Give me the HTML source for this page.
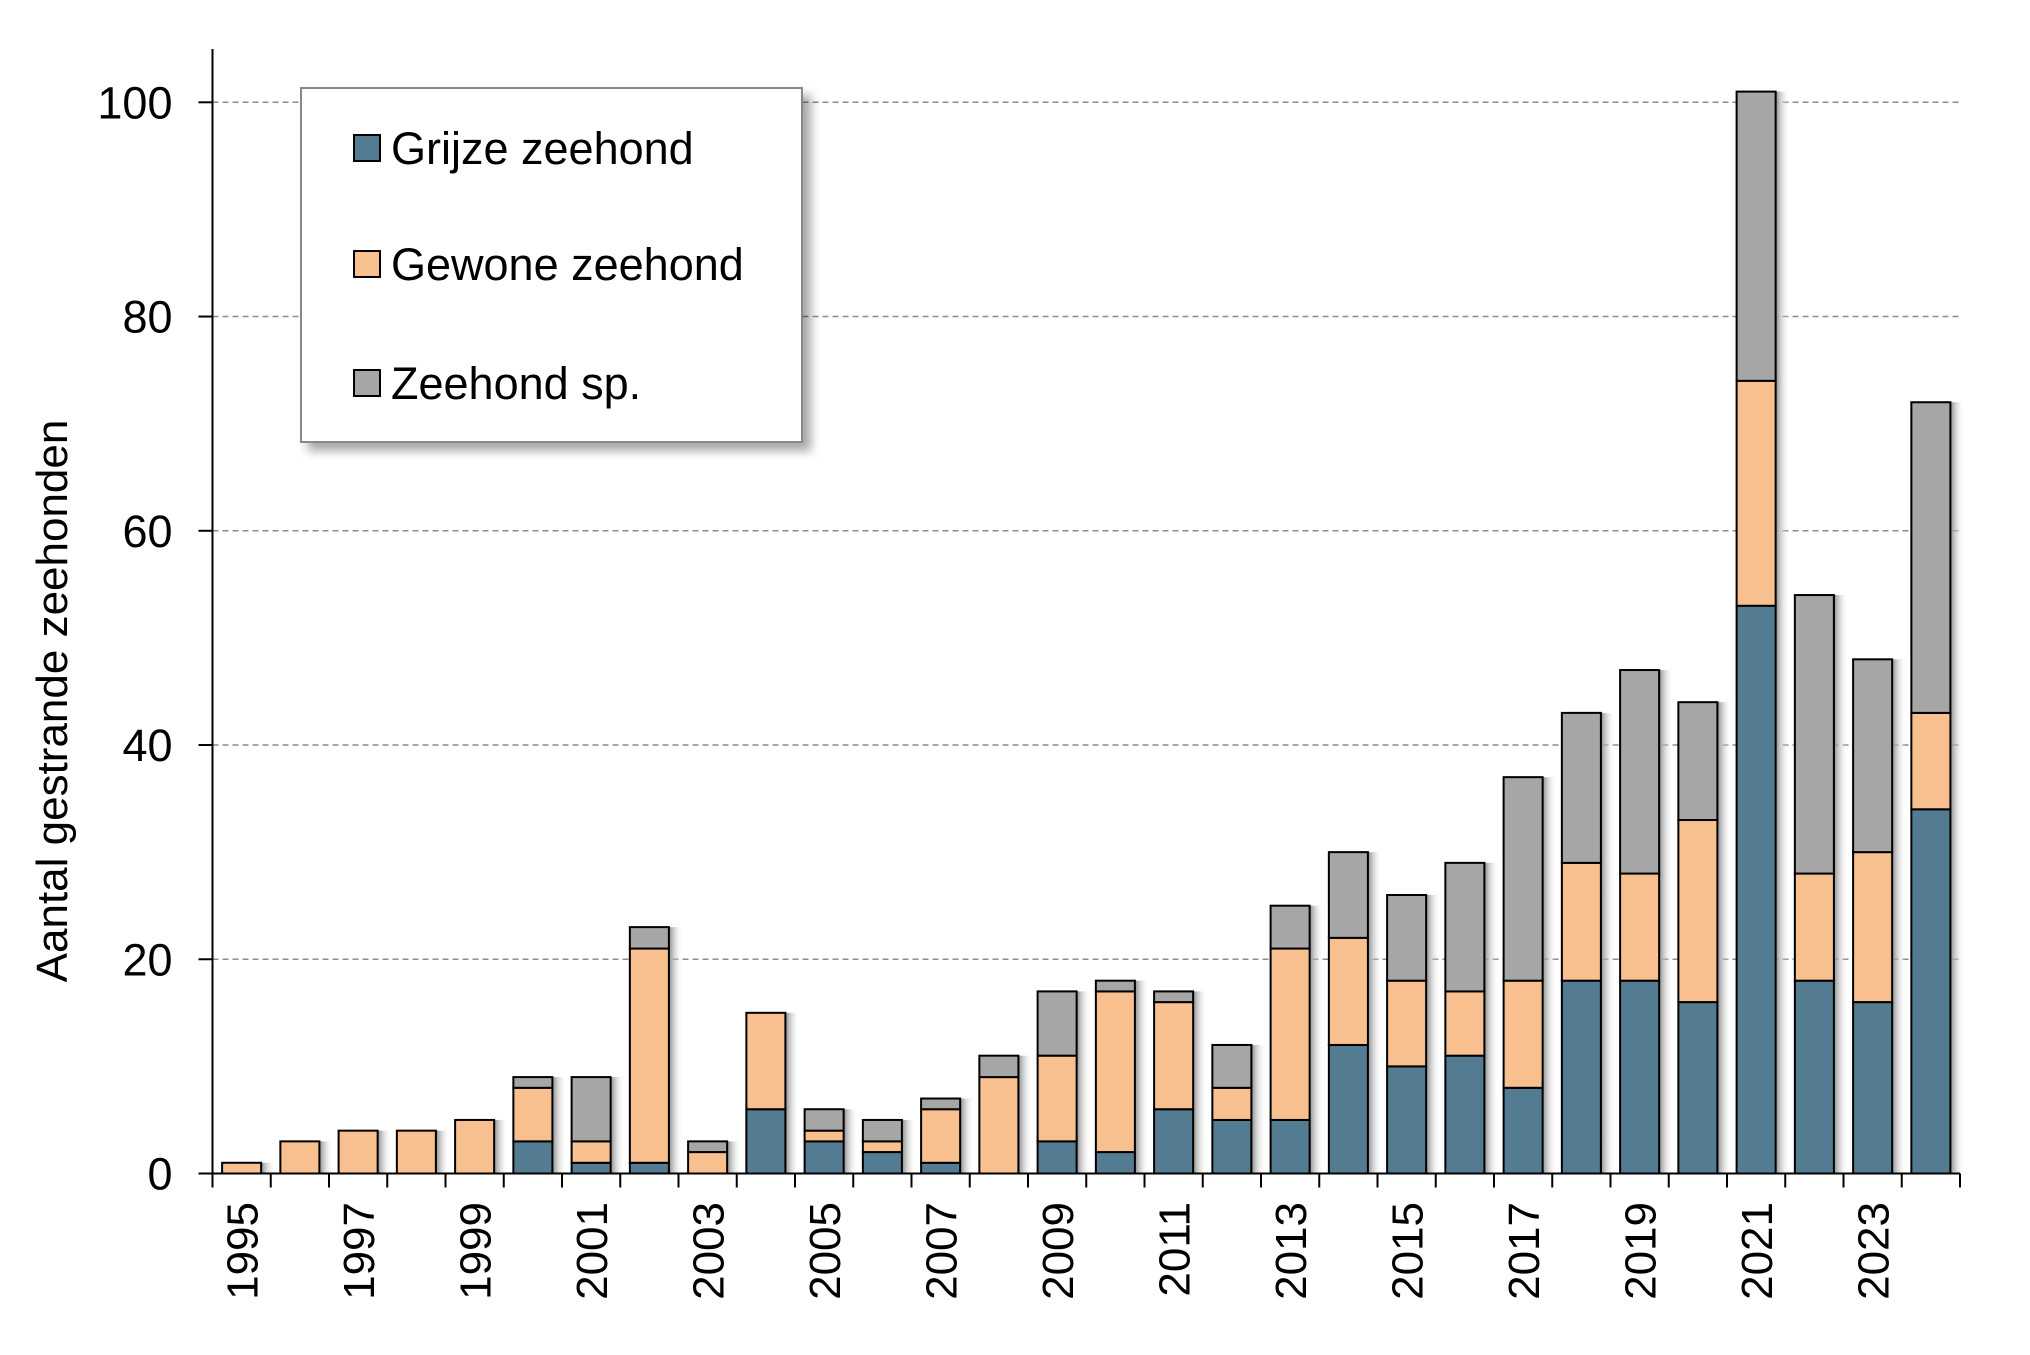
<!DOCTYPE html>
<html><head><meta charset="utf-8"><style>
html,body{margin:0;padding:0;background:#fff;}
svg{display:block;font-family:"Liberation Sans",Arial,sans-serif;}
</style></head><body>
<svg id="chart" width="2030" height="1355" viewBox="0 0 2030 1355">
<defs>
<linearGradient id="shade" x1="0" x2="1" y1="0" y2="0">
<stop offset="0" stop-color="#8a8a8a"/><stop offset="1" stop-color="#ffffff" stop-opacity="0"/>
</linearGradient>
<filter id="lshadow" x="-10%" y="-10%" width="130%" height="130%"><feDropShadow dx="8" dy="8" stdDeviation="5" flood-color="#000" flood-opacity="0.35"/></filter>
</defs>
<g id="grid"></g>
<g id="bars"></g>
<g id="axes"></g>
<text x="0" y="0" transform="translate(67,701) rotate(-90)" text-anchor="middle" font-size="44" fill="#000">Aantal gestrande zeehonden</text>
<g>
<rect x="301" y="88" width="501" height="354" fill="#fff" stroke="#888" stroke-width="2" filter="url(#lshadow)"/>
<rect x="354" y="135" width="26" height="26" fill="#537b91" stroke="#000" stroke-width="2"/>
<text x="391" y="164" font-size="45">Grijze zeehond</text>
<rect x="354" y="251" width="26" height="26" fill="#f9c08f" stroke="#000" stroke-width="2"/>
<text x="391" y="280" font-size="45">Gewone zeehond</text>
<rect x="354" y="370" width="26" height="26" fill="#a6a6a6" stroke="#000" stroke-width="2"/>
<text x="391" y="399" font-size="45">Zeehond sp.</text>
</g>
</svg>
<script>
const years = [1995,1996,1997,1998,1999,2000,2001,2002,2003,2004,2005,2006,2007,2008,2009,2010,2011,2012,2013,2014,2015,2016,2017,2018,2019,2020,2021,2022,2023,2024];
const grijze = [0,0,0,0,0,3,1,1,0,6,3,2,1,0,3,2,6,5,5,12,10,11,8,18,18,16,53,18,16,34];
const gewone = [1,3,4,4,5,5,2,20,2,9,1,1,5,9,8,15,10,3,16,10,8,6,10,11,10,17,21,10,14,9];
const sp = [0,0,0,0,0,1,6,2,1,0,2,2,1,2,6,1,1,4,4,8,8,12,19,14,19,11,27,26,18,29];
const yTicks = [0,20,40,60,80,100];
const NS='http://www.w3.org/2000/svg';
const X0=212.5, X1=1960, Y0=1173.5, YTOP=49, PX_PER_UNIT=(1173.5-102.3)/100;
const step=(X1-X0)/years.length, bw=step*0.67;
function xScale(i){return X0+step*i+step/2;}
function yScale(v){return Y0-v*PX_PER_UNIT;}
function mk(tag,attrs,parent){const e=document.createElementNS(NS,tag);for(const k in attrs)e.setAttribute(k,attrs[k]);parent.appendChild(e);return e;}
const grid=document.getElementById('grid'),bars=document.getElementById('bars'),axes=document.getElementById('axes');
yTicks.forEach(t=>{
  const y=yScale(t);
  if(t>0){const g=mk('line',{x1:X0,x2:X1,y1:y,y2:y,stroke:'#8c8c8c','stroke-width':1.5,'stroke-dasharray':'6,4'},grid);
  
  }
  const tk=mk('line',{x1:X0-14,x2:X0,y1:y,y2:y,stroke:'#000','stroke-width':2},axes);
  
  
  const lb=mk('text',{x:X0-40,y:y+16,'text-anchor':'end','font-size':45},axes);
  lb.textContent=t;
  
  
});
const series=[[grijze,'#537b91','grijze'],[gewone,'#f9c08f','gewone'],[sp,'#a6a6a6','sp']];
years.forEach((yr,i)=>{
  const cx=xScale(i), left=cx-bw/2;
  const total=grijze[i]+gewone[i]+sp[i];
  const sh=mk('rect',{x:left+bw,y:yScale(total),width:14,height:Y0-yScale(total),fill:'url(#shade)'},bars);
  
  
  let base=0;
  series.forEach(([arr,col,nm])=>{
    const v=arr[i]; if(v<=0) return;
    const r=mk('rect',{x:left,y:yScale(base+v),width:bw,height:v*PX_PER_UNIT,fill:col,stroke:'#000','stroke-width':2},bars);
    
    
    base+=v;
  });
});
for(let i=0;i<=years.length;i++){
  const x=X0+step*i;
  const t=mk('line',{x1:x,x2:x,y1:Y0,y2:Y0+14,stroke:'#000','stroke-width':2},axes);
  
  
}
years.forEach((yr,i)=>{
  if(i%2!==0) return;
  const cx=xScale(i);
  const lb=mk('text',{x:0,y:0,transform:'translate('+(cx+16)+',1202) rotate(-90)','text-anchor':'end','font-size':44},axes);
  lb.textContent=yr;
  
  
});
const ya=mk('line',{x1:X0,x2:X0,y1:YTOP,y2:Y0,stroke:'#000','stroke-width':2},axes);


const xa=mk('line',{x1:X0-14,x2:X1,y1:Y0,y2:Y0,stroke:'#000','stroke-width':2},axes);


</script>
</body></html>
